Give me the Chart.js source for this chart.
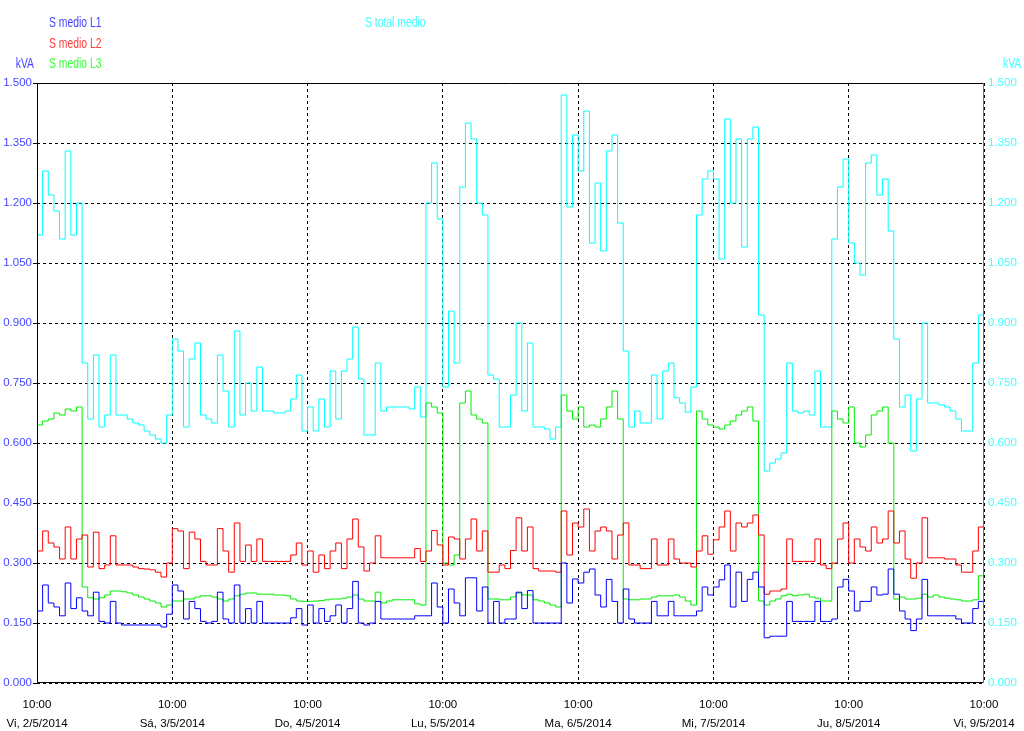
<!DOCTYPE html>
<html><head><meta charset="utf-8">
<script src="https://cdn.jsdelivr.net/npm/chart.js@4.4.0/dist/chart.umd.min.js"></script>
<style>
html,body{margin:0;padding:0;background:#fff;}
#wrap{position:relative;width:1024px;height:731px;overflow:hidden;}
canvas{position:absolute;left:0;top:0;}
.lbl{position:absolute;font-family:"Liberation Sans",Arial,sans-serif;font-size:14px;line-height:16px;white-space:nowrap;transform:scaleX(0.74);transform-origin:0 0;}
.lblr{transform-origin:100% 0;}
</style></head><body>
<div id="wrap">
<canvas id="c" width="1024" height="731"></canvas>
<div class="lbl" style="left:49px;top:14px;color:#4545ff">S medio L1</div>
<div class="lbl" style="left:49px;top:35px;color:#ff3b3b">S medio L2</div>
<div class="lbl" style="left:49px;top:55px;color:#3bff3b">S medio L3</div>
<div class="lbl" style="left:365px;top:14px;color:#45ffff">S total medio</div>
<div class="lbl lblr" style="left:0px;width:34px;text-align:right;top:55px;color:#4545ff">kVA</div>
<div class="lbl" style="left:1003px;top:55px;color:#45ffff">kVA</div>
</div>
<script>
// Hourly values starting Vi 2/5/2014 10:00 (kVA)
const tickTimes = ['10:00','10:00','10:00','10:00','10:00','10:00','10:00','10:00'];
const tickDays = ['Vi, 2/5/2014','Sá, 3/5/2014','Do, 4/5/2014','Lu, 5/5/2014','Ma, 6/5/2014','Mi, 7/5/2014','Ju, 8/5/2014','Vi, 9/5/2014'];
const yTicks = [0, 0.15, 0.3, 0.45, 0.6, 0.75, 0.9, 1.05, 1.2, 1.35, 1.5];

const s1 = [
0.18,0.245,0.20,0.19,0.168,0.25,0.186,0.213,0.18,0.168,0.227,0.154,0.15,0.204,0.15,0.145,0.145,0.145,0.145,0.145,0.145,0.145,0.14,0.172,
0.245,0.23,0.16,0.204,0.186,0.154,0.15,0.154,0.227,0.16,0.15,0.245,0.15,0.186,0.15,0.204,0.15,0.15,0.15,0.15,0.15,0.163,0.186,0.145,
0.195,0.15,0.186,0.154,0.168,0.195,0.15,0.186,0.254,0.15,0.145,0.15,0.204,0.16,0.16,0.16,0.16,0.16,0.16,0.168,0.168,0.168,0.25,0.19,
0.15,0.235,0.20,0.168,0.263,0.263,0.18,0.24,0.15,0.204,0.15,0.16,0.16,0.227,0.186,0.231,0.15,0.15,0.15,0.15,0.15,0.30,0.20,0.26,
0.25,0.277,0.285,0.22,0.19,0.259,0.204,0.15,0.235,0.16,0.15,0.15,0.15,0.204,0.168,0.168,0.204,0.168,0.168,0.168,0.168,0.18,0.24,0.22,
0.24,0.258,0.295,0.19,0.277,0.204,0.259,0.277,0.24,0.113,0.117,0.117,0.117,0.204,0.154,0.154,0.154,0.154,0.204,0.154,0.154,0.16,0.24,0.259,
0.23,0.18,0.204,0.204,0.24,0.22,0.222,0.285,0.222,0.18,0.16,0.131,0.16,0.259,0.168,0.168,0.168,0.168,0.168,0.16,0.15,0.15,0.186,0.204,
0.186];

const s2 = [
0.33,0.38,0.35,0.34,0.31,0.39,0.31,0.36,0.37,0.29,0.377,0.286,0.295,0.368,0.295,0.295,0.295,0.29,0.286,0.285,0.283,0.277,0.265,0.30,
0.386,0.38,0.286,0.377,0.36,0.304,0.295,0.295,0.386,0.33,0.277,0.40,0.304,0.345,0.304,0.36,0.304,0.304,0.304,0.304,0.304,0.32,0.35,0.295,
0.33,0.277,0.32,0.286,0.33,0.35,0.286,0.36,0.41,0.34,0.28,0.30,0.368,0.313,0.313,0.313,0.313,0.313,0.313,0.336,0.304,0.33,0.381,0.345,
0.295,0.365,0.36,0.31,0.36,0.41,0.33,0.38,0.277,0.277,0.295,0.286,0.331,0.413,0.33,0.39,0.286,0.28,0.28,0.28,0.277,0.43,0.32,0.40,
0.39,0.435,0.33,0.38,0.39,0.38,0.31,0.37,0.40,0.295,0.295,0.286,0.286,0.36,0.295,0.295,0.36,0.31,0.30,0.30,0.29,0.33,0.368,0.322,
0.358,0.39,0.43,0.33,0.40,0.39,0.40,0.42,0.37,0.222,0.23,0.23,0.235,0.36,0.304,0.304,0.304,0.304,0.36,0.295,0.286,0.30,0.36,0.40,
0.30,0.36,0.34,0.33,0.39,0.35,0.36,0.43,0.35,0.38,0.31,0.262,0.30,0.413,0.313,0.313,0.313,0.31,0.31,0.295,0.277,0.277,0.33,0.39,
0.33];

const s3 = [
0.645,0.655,0.66,0.675,0.67,0.685,0.68,0.69,0.24,0.213,0.21,0.213,0.22,0.23,0.23,0.228,0.225,0.22,0.215,0.21,0.205,0.20,0.19,0.195,
0.205,0.205,0.21,0.21,0.215,0.218,0.218,0.215,0.21,0.205,0.21,0.218,0.222,0.225,0.225,0.222,0.222,0.222,0.22,0.22,0.218,0.21,0.205,0.204,
0.204,0.205,0.206,0.208,0.21,0.21,0.212,0.215,0.22,0.21,0.205,0.205,0.227,0.20,0.205,0.208,0.208,0.208,0.208,0.198,0.195,0.70,0.69,0.675,
0.30,0.295,0.32,0.70,0.73,0.67,0.66,0.65,0.21,0.21,0.208,0.208,0.215,0.225,0.22,0.22,0.208,0.205,0.20,0.195,0.19,0.72,0.68,0.66,
0.69,0.64,0.645,0.64,0.66,0.69,0.73,0.66,0.21,0.208,0.208,0.21,0.21,0.215,0.218,0.218,0.218,0.22,0.215,0.205,0.195,0.68,0.66,0.645,
0.64,0.635,0.645,0.655,0.67,0.68,0.69,0.655,0.205,0.195,0.205,0.21,0.218,0.222,0.218,0.22,0.222,0.215,0.212,0.205,0.205,0.68,0.66,0.65,
0.69,0.60,0.59,0.62,0.67,0.68,0.69,0.60,0.21,0.215,0.21,0.21,0.212,0.222,0.215,0.22,0.215,0.212,0.21,0.208,0.205,0.205,0.208,0.268,
0.21];

const sTotal = [
1.12,1.28,1.22,1.18,1.11,1.33,1.12,1.20,0.80,0.66,0.82,0.64,0.67,0.82,0.67,0.67,0.66,0.65,0.645,0.63,0.62,0.61,0.60,0.67,
0.86,0.83,0.64,0.81,0.85,0.67,0.66,0.65,0.82,0.73,0.64,0.88,0.67,0.75,0.68,0.79,0.68,0.68,0.675,0.675,0.68,0.71,0.77,0.63,
0.69,0.63,0.71,0.64,0.78,0.66,0.78,0.81,0.89,0.76,0.62,0.62,0.80,0.68,0.69,0.69,0.69,0.69,0.685,0.74,0.665,1.20,1.30,1.16,
0.74,0.93,0.80,1.24,1.40,1.36,1.20,1.17,0.77,0.76,0.64,0.64,0.72,0.90,0.68,0.85,0.64,0.64,0.635,0.61,0.64,1.47,1.19,1.37,
1.28,1.43,1.10,1.25,1.08,1.33,1.37,1.15,0.83,0.64,0.68,0.65,0.65,0.77,0.66,0.78,0.80,0.713,0.70,0.677,0.74,1.17,1.26,1.28,
1.26,1.06,1.41,1.20,1.36,1.09,1.36,1.39,0.92,0.53,0.55,0.56,0.575,0.80,0.68,0.675,0.68,0.67,0.78,0.64,0.64,1.11,1.24,1.31,
1.10,1.05,1.02,1.30,1.32,1.22,1.26,1.13,0.86,0.69,0.72,0.58,0.71,0.90,0.70,0.70,0.695,0.69,0.68,0.66,0.63,0.63,0.80,0.92,
0.73];

const hours = s1.map((_, i) => i);
const pts = arr => arr.map((v, i) => ({x: hours[i], y: v}));

const FONT = '"Liberation Sans",Arial,sans-serif';
Chart.defaults.font.family = FONT;

const framePlugin = {
  id: 'frame',
  afterDatasetsDraw(chart) {
    const {ctx, chartArea: a} = chart;
    const l = Math.round(a.left) + 0.5, r = Math.round(a.right) - 0.5;
    const t = Math.round(a.top) + 0.5, b = Math.round(a.bottom) - 0.5;
    ctx.save();
    ctx.lineWidth = 1;
    ctx.strokeStyle = '#000';
    ctx.beginPath();
    ctx.moveTo(r, t); ctx.lineTo(l, t); ctx.lineTo(l, b); ctx.lineTo(r, b);
    ctx.stroke();
    ctx.strokeStyle = '#707070';
    ctx.beginPath(); ctx.moveTo(r, t); ctx.lineTo(r, b); ctx.stroke();
    ctx.restore();
  }
};

const ds = (label, arr, color, axis) => ({
  label, data: pts(arr), borderColor: color, backgroundColor: color,
  borderWidth: 1, pointRadius: 0, stepped: true, fill: false, yAxisID: axis
});

new Chart(document.getElementById('c'), {
  type: 'line',
  data: {
    datasets: [
      ds('S medio L1', s1, '#0000ff', 'y'),
      ds('S medio L2', s2, '#ff0000', 'y'),
      ds('S medio L3', s3, '#00ee00', 'y'),
      ds('S total medio', sTotal, '#00ffff', 'y2')
    ]
  },
  options: {
    responsive: false,
    animation: false,
    layout: {padding: {top: 83, left: 0, right: 0, bottom: 0}},
    plugins: {legend: {display: false}, tooltip: {enabled: false}, title: {display: false}},
    scales: {
      x: {
        type: 'linear', min: 0, max: 168,
        afterFit(s) { s.height = 48; s.paddingLeft = 0; s.paddingRight = 0; },
        afterBuildTicks(s) { s.ticks = tickDays.map((_, i) => ({value: i * 24})); },
        ticks: {
          autoSkip: false, maxRotation: 0, minRotation: 0, padding: 12, color: '#000',
          font: {size: 11.5, lineHeight: 1.65},
          callback(v) { const i = Math.round(v / 24); return [tickTimes[i], tickDays[i]]; }
        },
        grid: {color: '#000', drawTicks: false, lineWidth: 1},
        border: {display: false, dash: [3, 3]}
      },
      y: {
        position: 'left', min: 0, max: 1.5,
        afterFit(s) { s.width = 37; s.paddingTop = 0; s.paddingBottom = 0; },
        afterBuildTicks(s) { s.ticks = yTicks.map(v => ({value: v})); },
        ticks: {
          padding: 1, color: '#4545ff', font: {size: 11.5},
          callback(v) { return Number(v).toFixed(3); }
        },
        grid: {color: '#000', drawTicks: true, tickLength: 4, tickColor: '#000', lineWidth: 1},
        border: {display: false, dash: [3, 3]}
      },
      y2: {
        position: 'right', min: 0, max: 1.5,
        afterFit(s) { s.width = 40; s.paddingTop = 0; s.paddingBottom = 0; },
        afterBuildTicks(s) { s.ticks = yTicks.map(v => ({value: v})); },
        ticks: {
          padding: 4, color: '#45ffff', font: {size: 11.5},
          callback(v) { return Number(v).toFixed(3); }
        },
        grid: {display: false, drawOnChartArea: false, drawTicks: false},
        border: {display: false}
      }
    }
  },
  plugins: [framePlugin]
});
</script>
</body></html>
